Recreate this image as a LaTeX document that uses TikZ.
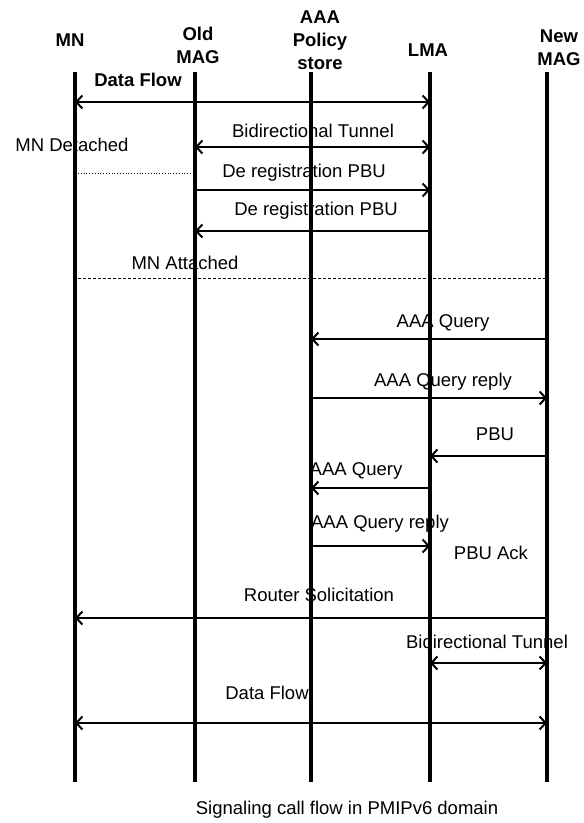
\documentclass[tikz,border=0pt]{standalone}
\usepackage{fontspec}
\setmainfont{Liberation Sans}
\usetikzlibrary{arrows.meta}
\begin{document}
\begin{tikzpicture}[x=1pt,y=-1pt,
  every node/.style={inner sep=0pt,font=\fontsize{18.5}{23}\selectfont},
  head/.style={font=\fontsize{18.5}{23}\selectfont\bfseries,align=center},
  lbl/.style={anchor=center},
  life/.style={line width=3.2pt},
  msg/.style={line width=2.4pt,-{Straight Barb[length=6pt,width=13pt,line width=2pt]}},
  bidir/.style={line width=2.4pt,{Straight Barb[length=6pt,width=13pt,line width=2pt]}-{Straight Barb[length=6pt,width=13pt,line width=2pt]}},
  dotline/.style={line width=0.8pt,dotted},
  dashline/.style={line width=0.8pt,dash pattern=on 3pt off 2pt}]
\useasboundingbox (0,0) rectangle (584,823);
% headers
\node[head] (hmn) at (70,40) {MN};
\node[head] (hold) at (198,45) {Old\\MAG};
\node[head] (haaa) at (320,40) {AAA\\Policy\\store};
\node[head] (hlma) at (428,50) {LMA};
\node[head] (hnew) at (559,48) {New\\MAG};
% lifelines
\coordinate (mn) at (75,72);   \coordinate (mnb) at (75,782);
\coordinate (old) at (195,72); \coordinate (oldb) at (195,782);
\coordinate (aaa) at (311,72); \coordinate (aaab) at (311,782);
\coordinate (lma) at (430,72); \coordinate (lmab) at (430,782);
\coordinate (new) at (547,72); \coordinate (newb) at (547,782);
% labels
\node[lbl,font=\fontsize{18.5}{23}\selectfont\bfseries] (l1) at (138,80) {Data Flow};
\node[lbl] (l2) at (313,131) {Bidirectional Tunnel};
\node[lbl] (l3) at (72,145) {MN Detached};
\node[lbl] (l4) at (304,173) {De registration PBU};
\node[lbl] (l5) at (316,211) {De registration PBU};
\node[lbl] (l6) at (185,263) {MN Attached};
\node[lbl] (l7) at (443,323) {AAA Query};
\node[lbl] (l8) at (443,382) {AAA Query reply};
\node[lbl] (l9) at (495,434) {PBU};
\node[lbl] (l10) at (356,471) {AAA Query};
\node[lbl] (l11) at (380,524) {AAA Query reply};
\node[lbl] (l12) at (491,553) {PBU Ack};
\node[lbl] (l13) at (319,595) {Router Solicitation};
\node[lbl] (l14) at (487,642) {Bidirectional Tunnel};
\node[lbl] (l15) at (267,693) {Data Flow};
\node[lbl] (cap) at (347,810) {Signaling call flow in PMIPv6 domain};
% lifelines drawn
\foreach \a/\b in {mn/mnb,old/oldb,aaa/aaab,lma/lmab,new/newb}
  \draw[life] (\a) -- (\b);
% messages
\draw[bidir] (mn |- 0,102) -- (lma |- 0,102);
\draw[bidir] (old |- 0,147) -- (lma |- 0,147);
\draw[dotline] (78,173) -- (old |- 0,173);
\draw[msg] (old |- 0,190) -- (lma |- 0,190);
\draw[msg] (lma |- 0,231) -- (old |- 0,231);
\draw[dashline] (78,278) -- (new |- 0,278);
\draw[msg] (new |- 0,339) -- (aaa |- 0,339);
\draw[msg] (aaa |- 0,398) -- (new |- 0,398);
\draw[msg] (new |- 0,456) -- (lma |- 0,456);
\draw[msg] (lma |- 0,488) -- (aaa |- 0,488);
\draw[msg] (aaa |- 0,546) -- (lma |- 0,546);
\draw[msg] (new |- 0,618) -- (mn |- 0,618);
\draw[bidir] (lma |- 0,663) -- (new |- 0,663);
\draw[bidir] (mn |- 0,723) -- (new |- 0,723);
\end{tikzpicture}
\end{document}
